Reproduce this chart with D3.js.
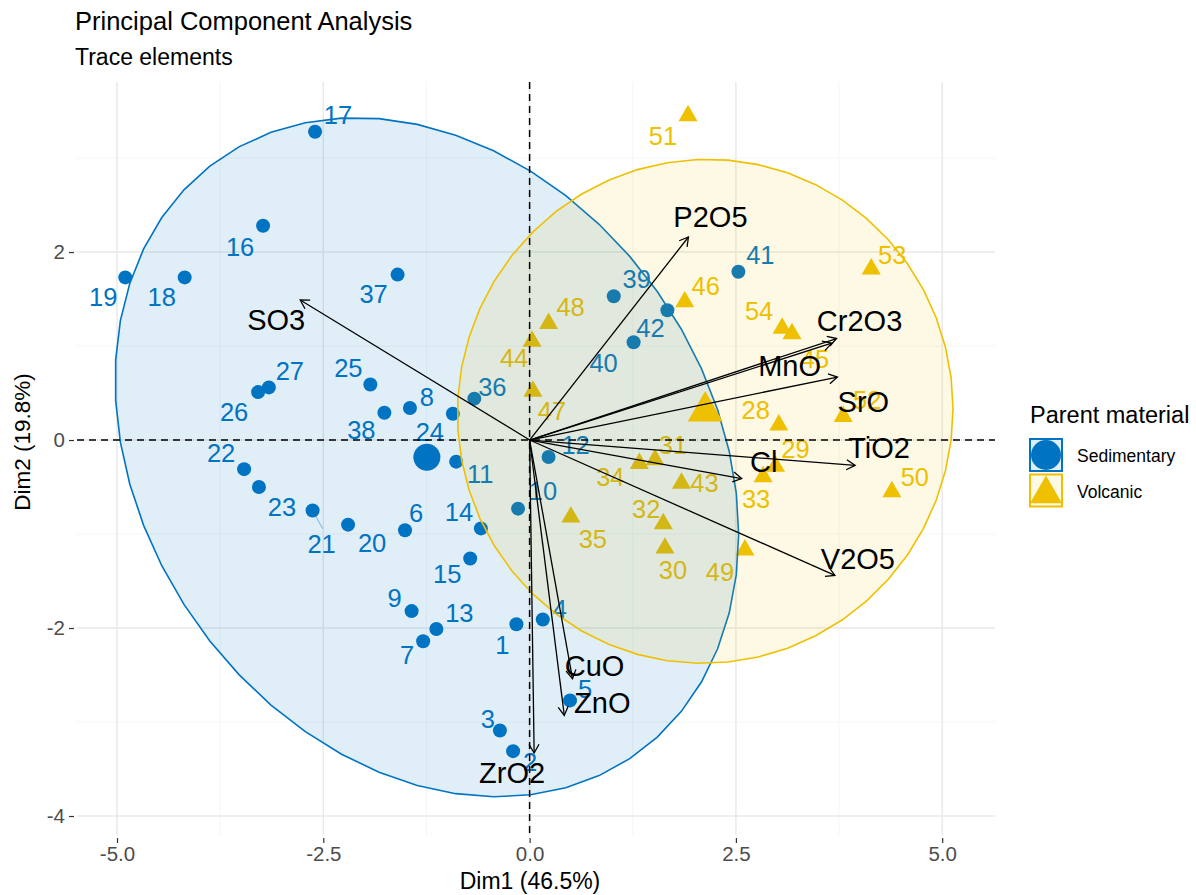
<!DOCTYPE html>
<html>
<head>
<meta charset="utf-8">
<script src="https://cdn.jsdelivr.net/npm/d3@7"></script>
<style>
  body { margin: 0; background: #fff; }
  svg { display: block; font-family: "Liberation Sans", Arial, sans-serif; }
</style>
</head>
<body>
<svg id="chart" width="1196" height="895"></svg>
<script>
// ---- PCA individuals (scores on Dim1 / Dim2) ----
const sedimentaryIds  = [1,2,3,4,5,6,7,8,9,10,11,12,13,14,15,16,17,18,19,20,21,22,23,24,25,26,27,36,37,38,39,40,41,42];
const sedimentaryDim1 = [-0.16,-0.20,-0.36,0.16,0.49,-1.51,-1.29,-1.45,-1.43,-0.14,-0.89,0.23,-1.13,-0.59,-0.72,-3.23,-2.60,-4.18,-4.90,-2.20,-2.63,-3.46,-3.28,-0.93,-1.93,-3.29,-3.16,-0.67,-1.60,-1.76,1.02,1.26,2.53,1.67];
const sedimentaryDim2 = [-1.96,-3.31,-3.09,-1.91,-2.77,-0.96,-2.14,0.34,-1.82,-0.73,-0.23,-0.18,-2.01,-0.94,-1.26,2.28,3.28,1.73,1.73,-0.90,-0.75,-0.31,-0.50,0.28,0.59,0.51,0.56,0.44,1.76,0.29,1.53,1.04,1.79,1.38];

const volcanicIds  = [28,29,30,31,32,33,34,35,43,44,45,46,47,48,49,50,51,52,53,54];
const volcanicDim1 = [3.02,2.98,1.64,1.52,1.62,2.83,1.33,0.50,1.84,0.03,3.18,1.88,0.04,0.23,2.61,4.39,1.92,3.80,4.14,3.06];
const volcanicDim2 = [0.16,-0.28,-1.15,-0.21,-0.89,-0.39,-0.25,-0.82,-0.46,1.05,1.13,1.47,0.52,1.24,-1.17,-0.55,3.45,0.25,1.82,1.19];

// ---- PCA variables (arrow tips) ----
const variableNames = ["SO3","P2O5","Cr2O3","MnO","SrO","TiO2","Cl","V2O5","CuO","ZnO","ZrO2"];
const variableDim1  = [-2.78,1.925,3.72,3.66,3.73,3.945,2.57,3.70,0.52,0.42,0.055];
const variableDim2  = [1.49,2.16,1.08,1.03,0.67,-0.27,-0.41,-1.44,-2.54,-2.93,-3.33];

// ---- axes ----
const xTickValues = [-5, -2.5, 0, 2.5, 5];
const xTickLabels = ["-5.0", "-2.5", "0.0", "2.5", "5.0"];
const yTickValues = [-4, -2, 0, 2];
const yTickLabels = ["-4", "-2", "0", "2"];

const groupNames = ["Sedimentary", "Volcanic"];
const ellipseLevel = 0.90;

// ---- label placement (pixel nudges from each mark, as arranged by the repel step) ----
const labelNudge = {
  1:[-14,21], 2:[17,11], 3:[-12,-12], 4:[17,-11], 5:[15,-12], 6:[11,-17], 7:[-16,14], 8:[17,-11],
  9:[-17,-13], 10:[25,-18], 11:[24,12], 12:[27,-12], 13:[23,-16], 14:[-22,-17], 15:[-23,15],
  16:[-23,21], 17:[23,-17], 18:[-23,19], 19:[-22,19], 20:[24,18], 21:[9,33], 22:[-23,-16],
  23:[23,20], 24:[-23,18], 25:[-22,-17], 26:[-24,20], 27:[21,-17], 36:[18,-12], 37:[-24,19],
  38:[-23,17], 39:[23,-17], 40:[-30,21], 41:[22,-17], 42:[-17,18],
  28:[-23,-15], 29:[20,-17], 30:[8,22], 31:[18,-15], 32:[-17,-15], 33:[-7,22], 34:[-29,13],
  35:[22,22], 43:[23,0], 44:[-18,17], 45:[23,25], 46:[21,-16], 47:[19,20], 48:[22,-17],
  49:[-25,22], 50:[23,-15], 51:[-25,20], 52:[24,-17], 53:[21,-14], 54:[-23,-17]
};
const repelSegment = { 21: [10, 18] };
const variableLabelNudge = {
  SO3:[-24,20], P2O5:[22,-20], Cr2O3:[23,-18], MnO:[-42,22], SrO:[26,25], TiO2:[24,-18],
  Cl:[22,-17], V2O5:[23,-17], CuO:[22,-13], ZnO:[38,-13], ZrO2:[-22,20]
};

// ---- styling ----
const colors = { Sedimentary: "#0073C2", Volcanic: "#EFC000" };
const fillAlpha = { Sedimentary: 0.12, Volcanic: 0.10 };
const indFont = 25.5, varFont = 29;

const svg = d3.select("#chart");
const panel = { left: 77, right: 995, top: 82, bottom: 835 };
const x = d3.scaleLinear().domain([-5.485, 5.64]).range([panel.left, panel.right]);
const y = d3.scaleLinear().domain([-4.202, 3.809]).range([panel.bottom, panel.top]);

const groups = [
  { name: "Sedimentary", shape: "circle",   ids: sedimentaryIds, d1: sedimentaryDim1, d2: sedimentaryDim2 },
  { name: "Volcanic",    shape: "triangle", ids: volcanicIds,    d1: volcanicDim1,    d2: volcanicDim2 }
];
groups.forEach(g => {
  g.points = g.ids.map((id, i) => ({ id, x: g.d1[i], y: g.d2[i] }));
});

// R-style filled triangle (pch 17) centred on its centroid
function trianglePath(cx, cy, halfBase) {
  const r = halfBase * 1.5551 / 1.3468, yc = r / 2;
  return `M${cx},${cy - r}L${cx + halfBase},${cy + yc}L${cx - halfBase},${cy + yc}Z`;
}

// ---- grid ----
const grid = svg.append("g");
[-3.75, -1.25, 1.25, 3.75].forEach(v => grid.append("line")
  .attr("x1", x(v)).attr("x2", x(v)).attr("y1", panel.top).attr("y2", panel.bottom)
  .attr("stroke", "#F2F2F2").attr("stroke-width", 0.8));
[-3, -1, 1, 3].forEach(v => grid.append("line")
  .attr("y1", y(v)).attr("y2", y(v)).attr("x1", panel.left).attr("x2", panel.right)
  .attr("stroke", "#F2F2F2").attr("stroke-width", 0.8));
xTickValues.forEach(v => grid.append("line")
  .attr("x1", x(v)).attr("x2", x(v)).attr("y1", panel.top).attr("y2", panel.bottom)
  .attr("stroke", "#E8E8E8").attr("stroke-width", 1.4));
yTickValues.forEach(v => grid.append("line")
  .attr("y1", y(v)).attr("y2", y(v)).attr("x1", panel.left).attr("x2", panel.right)
  .attr("stroke", "#E8E8E8").attr("stroke-width", 1.4));

// ---- axes ----
const xAxis = d3.axisBottom(x).tickValues(xTickValues).tickFormat((d, i) => xTickLabels[i])
  .tickSize(5).tickPadding(3);
const gx = svg.append("g").attr("transform", `translate(0,${panel.bottom + 3})`).call(xAxis);
gx.select(".domain").remove();
gx.selectAll(".tick line").attr("stroke", "#333").attr("stroke-width", 1.2);
gx.selectAll(".tick text").attr("fill", "#4D4D4D").attr("font-size", 20.5)
  .attr("font-family", "Liberation Sans, Arial, sans-serif");

const yAxis = d3.axisLeft(y).tickValues(yTickValues).tickFormat((d, i) => yTickLabels[i])
  .tickSize(5).tickPadding(4);
const gy = svg.append("g").attr("transform", `translate(${panel.left - 3},0)`).call(yAxis);
gy.select(".domain").remove();
gy.selectAll(".tick line").attr("stroke", "#333").attr("stroke-width", 1.2);
gy.selectAll(".tick text").attr("fill", "#4D4D4D").attr("font-size", 20.5)
  .attr("font-family", "Liberation Sans, Arial, sans-serif");

// ---- individuals: points ----
const pts = svg.append("g");
groups.forEach(g => {
  g.points.forEach(p => {
    if (g.shape === "circle") {
      pts.append("circle").attr("cx", x(p.x)).attr("cy", y(p.y)).attr("r", 7).attr("fill", colors[g.name]);
    } else {
      pts.append("path").attr("d", trianglePath(x(p.x), y(p.y), 9.5)).attr("fill", colors[g.name]);
    }
  });
});

// ---- individuals: labels ----
const labels = svg.append("g").attr("font-size", indFont);
groups.forEach(g => {
  g.points.forEach(p => {
    const [dx, dy] = labelNudge[p.id] || [0, 0];
    const px = x(p.x), py = y(p.y);
    if (repelSegment[p.id]) {
      const [sx, sy] = repelSegment[p.id];
      labels.append("line").attr("x1", px).attr("y1", py).attr("x2", px + sx).attr("y2", py + sy)
        .attr("stroke", colors[g.name]).attr("stroke-width", 0.7).attr("opacity", 0.7);
    }
    labels.append("text").attr("x", px + dx).attr("y", py + dy + indFont * 0.358)
      .attr("text-anchor", "middle").attr("fill", colors[g.name]).text(p.id);
  });
});

// ---- normal-theory concentration ellipses ----
function ellipsePoints(pointsArr, level, segments = 51) {
  const n = pointsArr.length;
  const mx = d3.mean(pointsArr, d => d.x), my = d3.mean(pointsArr, d => d.y);
  let sxx = 0, syy = 0, sxy = 0;
  pointsArr.forEach(d => { const a = d.x - mx, b = d.y - my; sxx += a * a; syy += b * b; sxy += a * b; });
  sxx /= n - 1; syy /= n - 1; sxy /= n - 1;
  const r11 = Math.sqrt(sxx), r12 = sxy / r11, r22 = Math.sqrt(syy - r12 * r12);
  const dfd = n - 1;
  const fq = (dfd / 2) * (Math.pow(1 - level, -2 / dfd) - 1);   // qf(level, 2, n-1)
  const radius = Math.sqrt(2 * fq);
  return d3.range(segments + 1).map(k => {
    const a = k * 2 * Math.PI / segments, c = Math.cos(a), s = Math.sin(a);
    return [mx + radius * c * r11, my + radius * (c * r12 + s * r22)];
  });
}
const ellLine = d3.line().x(d => x(d[0])).y(d => y(d[1])).curve(d3.curveLinearClosed);
const ells = svg.append("g");
groups.forEach(g => {
  ells.append("path").attr("d", ellLine(ellipsePoints(g.points, ellipseLevel)))
    .attr("fill", colors[g.name]).attr("fill-opacity", fillAlpha[g.name])
    .attr("stroke", colors[g.name]).attr("stroke-width", 1.6);
});

// ---- reference lines through the origin ----
svg.append("line").attr("x1", panel.left).attr("x2", panel.right).attr("y1", y(0)).attr("y2", y(0))
  .attr("stroke", "#000").attr("stroke-width", 1.5).attr("stroke-dasharray", "7,5");
svg.append("line").attr("x1", x(0)).attr("x2", x(0)).attr("y1", panel.top).attr("y2", panel.bottom)
  .attr("stroke", "#000").attr("stroke-width", 1.5).attr("stroke-dasharray", "7,5");

// ---- group mean points ----
groups.forEach(g => {
  const mx = d3.mean(g.points, d => d.x), my = d3.mean(g.points, d => d.y);
  if (g.shape === "circle") {
    svg.append("circle").attr("cx", x(mx)).attr("cy", y(my)).attr("r", 13.5).attr("fill", colors[g.name]);
  } else {
    svg.append("path").attr("d", trianglePath(x(mx), y(my), 17.5)).attr("fill", colors[g.name]);
  }
});

// ---- variable arrows ----
const arrows = svg.append("g").attr("stroke", "#000").attr("stroke-width", 1.3).attr("fill", "none");
const headLen = 10, headAng = Math.PI / 6;
variableNames.forEach((name, i) => {
  const x0 = x(0), y0 = y(0), x1 = x(variableDim1[i]), y1 = y(variableDim2[i]);
  const ang = Math.atan2(y1 - y0, x1 - x0);
  arrows.append("line").attr("x1", x0).attr("y1", y0).attr("x2", x1).attr("y2", y1);
  const hx1 = x1 - headLen * Math.cos(ang - headAng), hy1 = y1 - headLen * Math.sin(ang - headAng);
  const hx2 = x1 - headLen * Math.cos(ang + headAng), hy2 = y1 - headLen * Math.sin(ang + headAng);
  arrows.append("path").attr("d", `M${hx1},${hy1}L${x1},${y1}L${hx2},${hy2}`);
});
const varLabels = svg.append("g").attr("font-size", varFont).attr("fill", "#000");
variableNames.forEach((name, i) => {
  const [dx, dy] = variableLabelNudge[name];
  varLabels.append("text").attr("x", x(variableDim1[i]) + dx).attr("y", y(variableDim2[i]) + dy + varFont * 0.358)
    .attr("text-anchor", "middle").text(name);
});

// ---- titles ----
svg.append("text").attr("x", 75).attr("y", 30).attr("font-size", 25.5).attr("fill", "#000")
  .text("Principal Component Analysis");
svg.append("text").attr("x", 75).attr("y", 65).attr("font-size", 23).attr("fill", "#000")
  .text("Trace elements");
svg.append("text").attr("x", 530).attr("y", 889).attr("font-size", 23).attr("text-anchor", "middle")
  .attr("fill", "#000").text("Dim1 (46.5%)");
svg.append("text").attr("transform", "translate(30,442) rotate(-90)").attr("font-size", 22.5)
  .attr("text-anchor", "middle").attr("fill", "#000").text("Dim2 (19.8%)");

// ---- legend ----
const lg = svg.append("g").attr("transform", "translate(1029,0)");
lg.append("text").attr("x", 1).attr("y", 423).attr("font-size", 23.5).attr("fill", "#000").text("Parent material");
const keyY = [438, 473.5];
groupNames.forEach((name, i) => {
  lg.append("rect").attr("x", 1).attr("y", keyY[i] + 1).attr("width", 32).attr("height", 32)
    .attr("fill", colors[name]).attr("fill-opacity", fillAlpha[name])
    .attr("stroke", colors[name]).attr("stroke-width", 2);
  lg.append("text").attr("x", 48).attr("y", keyY[i] + 24).attr("font-size", 17.5).attr("fill", "#000").text(name);
});
lg.append("circle").attr("cx", 17).attr("cy", keyY[0] + 17).attr("r", 15).attr("fill", colors.Sedimentary);
lg.append("path").attr("d", trianglePath(17, keyY[1] + 20.5, 16)).attr("fill", colors.Volcanic);
</script>
</body>
</html>
